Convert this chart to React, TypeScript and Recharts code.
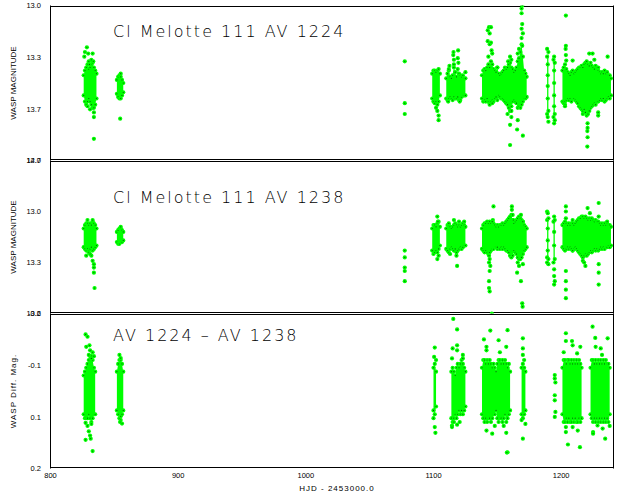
import React from 'react'
import { ComposedChart, Area, Scatter, XAxis, YAxis, Label } from 'recharts'

// each night: [HJD - 2453000, brightest, faintest] of the dense part
type Night = [number, number, number]
type Pt = [number, number]

const xMinorTicks = [
  800, 810, 820, 830, 840, 850, 860, 870, 880, 890, 900, 910, 920, 930, 940, 950, 960, 970, 980, 990,
  1000, 1010, 1020, 1030, 1040, 1050, 1060, 1070, 1080, 1090, 1100, 1110, 1120, 1130, 1140, 1150,
  1160, 1170, 1180, 1190, 1200, 1210, 1220, 1230, 1240,
]
const xMajorTicks = [800, 900, 1000, 1100, 1200]

const av1224Ticks = [13.0, 13.333, 13.667, 14.0]
const av1238Ticks = [12.7, 13.0, 13.3, 13.6]
const diffTicks = [-0.2, -0.0667, 0.0667, 0.2]

// ---- AV 1224 ----
const av1224Runs: Night[][] = [
  [[826, 13.45, 13.58], [827, 13.42, 13.62], [828, 13.40, 13.64], [829, 13.38, 13.62], [830, 13.41, 13.60], [831, 13.40, 13.62],
   [832, 13.38, 13.64], [833, 13.37, 13.66], [834, 13.40, 13.66], [835, 13.42, 13.64], [836, 13.44, 13.60]],
  [[852, 13.48, 13.57], [853, 13.46, 13.59], [854, 13.45, 13.60], [855, 13.46, 13.60], [856, 13.48, 13.58], [857, 13.50, 13.56]],
  [[1099, 13.44, 13.60], [1100, 13.42, 13.62], [1101, 13.42, 13.63], [1102, 13.43, 13.62], [1103, 13.42, 13.64], [1104, 13.41, 13.62], [1105, 13.44, 13.58]],
  [[1110, 13.47, 13.60], [1111, 13.44, 13.61], [1112, 13.42, 13.60], [1113, 13.46, 13.59], [1114, 13.47, 13.60], [1115, 13.45, 13.61],
   [1116, 13.40, 13.59], [1117, 13.43, 13.60], [1118, 13.46, 13.60], [1119, 13.41, 13.59], [1120, 13.44, 13.61], [1121, 13.45, 13.61],
   [1122, 13.46, 13.59], [1123, 13.45, 13.58], [1124, 13.47, 13.58], [1125, 13.47, 13.58]],
  [[1138, 13.45, 13.60], [1139, 13.42, 13.62], [1140, 13.41, 13.61], [1141, 13.42, 13.62], [1142, 13.40, 13.60], [1143, 13.38, 13.62],
   [1144, 13.40, 13.63], [1145, 13.36, 13.62], [1146, 13.38, 13.61], [1147, 13.41, 13.62], [1148, 13.42, 13.60], [1149, 13.43, 13.59],
   [1150, 13.40, 13.61], [1151, 13.44, 13.58], [1152, 13.45, 13.59], [1153, 13.44, 13.60], [1154, 13.43, 13.60], [1155, 13.42, 13.61],
   [1156, 13.40, 13.62], [1157, 13.41, 13.63], [1158, 13.40, 13.64], [1159, 13.38, 13.66], [1160, 13.37, 13.68], [1161, 13.40, 13.65],
   [1162, 13.41, 13.62], [1163, 13.43, 13.61], [1164, 13.42, 13.62], [1165, 13.40, 13.63], [1166, 13.36, 13.66], [1167, 13.34, 13.65],
   [1168, 13.30, 13.66], [1169, 13.25, 13.64], [1170, 13.33, 13.62], [1171, 13.42, 13.60], [1172, 13.44, 13.60], [1173, 13.46, 13.59]],
  [[1189, 13.33, 13.70], [1190, 13.30, 13.68]],
  [[1194, 13.35, 13.72], [1195, 13.37, 13.70]],
  [[1201, 13.42, 13.62], [1202, 13.40, 13.63], [1203, 13.38, 13.62], [1204, 13.41, 13.61], [1205, 13.43, 13.60], [1206, 13.44, 13.61],
   [1207, 13.45, 13.60], [1208, 13.43, 13.62], [1209, 13.42, 13.60], [1210, 13.44, 13.60], [1211, 13.43, 13.61], [1212, 13.42, 13.62],
   [1213, 13.41, 13.63], [1214, 13.40, 13.65], [1215, 13.40, 13.66], [1216, 13.39, 13.67], [1217, 13.40, 13.68], [1218, 13.38, 13.67],
   [1219, 13.37, 13.69], [1220, 13.36, 13.71], [1221, 13.38, 13.70], [1222, 13.39, 13.68], [1223, 13.37, 13.66], [1224, 13.39, 13.65],
   [1225, 13.40, 13.64], [1226, 13.41, 13.63], [1227, 13.39, 13.64], [1228, 13.40, 13.62], [1229, 13.42, 13.62], [1230, 13.43, 13.61],
   [1231, 13.44, 13.60], [1232, 13.43, 13.61], [1233, 13.44, 13.60], [1234, 13.42, 13.62], [1235, 13.44, 13.61], [1236, 13.43, 13.60],
   [1237, 13.45, 13.59], [1238, 13.45, 13.60], [1239, 13.47, 13.58]],
]

const av1224Stray: Pt[] = [
  [827, 13.30], [828.5, 13.27], [826.5, 13.33], [829.5, 13.31], [830, 13.36], [830.5, 13.38], [833, 13.31], [833.5, 13.36],
  [834, 13.69], [834, 13.72], [834, 13.86], [829, 13.65], [831, 13.67], [832, 13.35],
  [854.6, 13.73], [855, 13.44],
  [1077.5, 13.36], [1077.5, 13.63], [1077.5, 13.70],
  [1103, 13.68], [1104, 13.71], [1104, 13.74], [1102, 13.66],
  [1115.7, 13.30], [1115.5, 13.32], [1116, 13.35], [1116, 13.38], [1119.3, 13.29], [1119, 13.34], [1119.5, 13.37],
  [1112, 13.41], [1111.5, 13.62], [1120.5, 13.62], [1112.5, 13.39], [1125, 13.43],
  [1143.5, 13.14], [1145, 13.14], [1142.5, 13.16], [1144, 13.18], [1142.5, 13.23], [1145, 13.24], [1144, 13.25], [1146, 13.31],
  [1143, 13.33], [1145.5, 13.29], [1150, 13.40], [1158.5, 13.36], [1160, 13.33], [1161, 13.35], [1161, 13.68], [1161, 13.72],
  [1160, 13.77], [1160, 13.90], [1158, 13.70], [1166, 13.31], [1166, 13.74], [1165.5, 13.80], [1169.5, 13.00], [1169, 13.02],
  [1169, 13.05], [1169.5, 13.12], [1169, 13.15], [1170, 13.18], [1169, 13.21], [1169.5, 13.26], [1170, 13.84], [1167, 13.28],
  [1144, 13.64], [1146, 13.63],
  [1189, 13.28], [1189.5, 13.38], [1189.5, 13.45], [1189.5, 13.52], [1189.5, 13.60], [1190, 13.75], [1189.5, 13.72],
  [1194.5, 13.33], [1194.5, 13.42], [1194.5, 13.50], [1194.5, 13.58], [1194.5, 13.65], [1194.5, 13.76], [1195, 13.74],
  [1203.7, 13.065], [1203.7, 13.26], [1203.5, 13.28], [1203.7, 13.32], [1204, 13.355], [1209, 13.355], [1220.7, 13.76],
  [1220.7, 13.79], [1220.5, 13.81], [1220.7, 13.85], [1220.5, 13.91], [1222, 13.31], [1224.6, 13.31], [1236.4, 13.33],
  [1229, 13.40], [1229, 13.69], [1229, 13.71], [1217, 13.70], [1203, 13.64], [1203, 13.65], [1226, 13.35],
]

// ---- AV 1238 ----
const av1238Runs: Night[][] = [
  [[826, 13.10, 13.21], [827, 13.08, 13.22], [828, 13.07, 13.23], [829, 13.07, 13.22], [830, 13.08, 13.23], [831, 13.07, 13.22],
   [832, 13.08, 13.21], [833, 13.06, 13.23], [834, 13.07, 13.22], [835, 13.08, 13.21], [836, 13.10, 13.20]],
  [[852, 13.12, 13.18], [853, 13.11, 13.19], [854, 13.10, 13.19], [855, 13.10, 13.18], [856, 13.11, 13.18], [857, 13.12, 13.17]],
  [[1099, 13.10, 13.23], [1100, 13.08, 13.25], [1101, 13.08, 13.24], [1102, 13.09, 13.23], [1103, 13.07, 13.24], [1104, 13.06, 13.22], [1105, 13.09, 13.20]],
  [[1110, 13.10, 13.22], [1111, 13.08, 13.23], [1112, 13.08, 13.24], [1113, 13.09, 13.22], [1114, 13.10, 13.21], [1115, 13.09, 13.22],
   [1116, 13.08, 13.23], [1117, 13.07, 13.22], [1118, 13.08, 13.24], [1119, 13.09, 13.23], [1120, 13.08, 13.22], [1121, 13.09, 13.21],
   [1122, 13.08, 13.22], [1123, 13.07, 13.21], [1124, 13.08, 13.20], [1125, 13.09, 13.20]],
  [[1138, 13.10, 13.22], [1139, 13.08, 13.23], [1140, 13.07, 13.24], [1141, 13.07, 13.23], [1142, 13.06, 13.24], [1143, 13.07, 13.25],
   [1144, 13.06, 13.24], [1145, 13.07, 13.23], [1146, 13.06, 13.22], [1147, 13.07, 13.22], [1148, 13.08, 13.21], [1149, 13.09, 13.21],
   [1150, 13.08, 13.22], [1151, 13.09, 13.21], [1152, 13.08, 13.22], [1153, 13.08, 13.21], [1154, 13.07, 13.22], [1155, 13.08, 13.21],
   [1156, 13.07, 13.22], [1157, 13.06, 13.23], [1158, 13.05, 13.23], [1159, 13.04, 13.24], [1160, 13.03, 13.26], [1161, 13.02, 13.27],
   [1162, 13.05, 13.26], [1163, 13.07, 13.23], [1164, 13.06, 13.24], [1165, 13.05, 13.25], [1166, 13.04, 13.27], [1167, 13.03, 13.28],
   [1168, 13.04, 13.28], [1169, 13.05, 13.27], [1170, 13.06, 13.25], [1171, 13.08, 13.23], [1172, 13.09, 13.22], [1173, 13.10, 13.21]],
  [[1189, 13.05, 13.27], [1190, 13.04, 13.28]],
  [[1194, 13.06, 13.30], [1195, 13.05, 13.28]],
  [[1201, 13.08, 13.21], [1202, 13.07, 13.22], [1203, 13.06, 13.23], [1204, 13.07, 13.22], [1205, 13.08, 13.21], [1206, 13.07, 13.22],
   [1207, 13.08, 13.21], [1208, 13.07, 13.22], [1209, 13.07, 13.23], [1210, 13.08, 13.22], [1211, 13.07, 13.21], [1212, 13.06, 13.22],
   [1213, 13.05, 13.23], [1214, 13.04, 13.24], [1215, 13.04, 13.25], [1216, 13.03, 13.26], [1217, 13.03, 13.27], [1218, 13.04, 13.26],
   [1219, 13.03, 13.25], [1220, 13.04, 13.26], [1221, 13.05, 13.25], [1222, 13.04, 13.24], [1223, 13.05, 13.23], [1224, 13.04, 13.24],
   [1225, 13.05, 13.23], [1226, 13.06, 13.22], [1227, 13.05, 13.23], [1228, 13.06, 13.22], [1229, 13.06, 13.23], [1230, 13.07, 13.22],
   [1231, 13.08, 13.21], [1232, 13.07, 13.22], [1233, 13.08, 13.21], [1234, 13.07, 13.22], [1235, 13.08, 13.21], [1236, 13.07, 13.21],
   [1237, 13.08, 13.20], [1238, 13.08, 13.21], [1239, 13.09, 13.20]],
]

const av1238Stray: Pt[] = [
  [829, 13.05], [833, 13.05], [830, 13.24], [832, 13.26], [833, 13.29], [834, 13.31], [834, 13.33], [834, 13.36], [834.5, 13.45],
  [831, 13.25], [828, 13.26],
  [855, 13.09],
  [1077.5, 13.23], [1077.5, 13.27], [1077.5, 13.33], [1077.5, 13.35], [1077.5, 13.41],
  [1103, 13.03], [1103.5, 13.06], [1103, 13.28], [1104, 13.26],
  [1118.5, 13.32], [1118, 13.26], [1116, 13.05], [1124, 13.06], [1112, 13.07], [1120, 13.06], [1113, 13.25],
  [1147, 12.97], [1146.5, 13.05], [1146, 13.06], [1143.5, 13.26], [1144, 13.28], [1143.5, 13.30], [1144.5, 13.32], [1144, 13.35],
  [1143.5, 13.41], [1143.5, 13.45], [1144, 13.47], [1150, 13.21], [1161.4, 12.97], [1161.4, 12.99], [1162, 13.02], [1162.5, 13.05],
  [1165.5, 13.36], [1168.5, 13.41], [1169.5, 13.54], [1169.8, 13.56], [1166, 13.30], [1167, 13.32], [1170, 13.31], [1168.5, 13.02],
  [1170, 13.06], [1145.7, 13.60],
  [1189, 13.00], [1189.5, 13.01], [1190, 13.31], [1189, 13.30], [1189.5, 13.10], [1189.5, 13.17], [1189.5, 13.23],
  [1194.5, 13.03], [1194.5, 13.38], [1195, 13.41], [1194.5, 13.43], [1194.5, 13.12], [1194.5, 13.20], [1194.5, 13.34],
  [1203.7, 12.97], [1203.7, 13.00], [1203.7, 13.04], [1203.7, 13.35], [1203.7, 13.41], [1203.7, 13.46], [1203.7, 13.51],
  [1209, 13.05], [1209, 13.23], [1220.7, 12.98], [1222.5, 13.01], [1229.4, 12.95], [1229.4, 13.03], [1229.4, 13.31],
  [1229.4, 13.36], [1229.4, 13.43], [1217, 13.29], [1219, 13.32], [1218, 13.30], [1236, 13.06],
]

// ---- AV 1224 - AV 1238 ----
const diffRuns: Night[][] = [
  [[826, -0.04, 0.06], [827, -0.05, 0.07], [828, -0.06, 0.07], [829, -0.07, 0.07], [830, -0.08, 0.06], [831, -0.09, 0.07],
   [832, -0.09, 0.08], [833, -0.08, 0.07], [834, -0.06, 0.06], [835, -0.05, 0.06]],
  [[852, -0.05, 0.05], [853, -0.07, 0.06], [854, -0.08, 0.07], [855, -0.08, 0.065], [856, -0.07, 0.06], [857, -0.05, 0.05]],
  [[1100, -0.06, 0.05], [1101, -0.07, 0.06], [1102, -0.05, 0.04]],
  [[1114, -0.05, 0.07], [1115, -0.06, 0.08], [1116, -0.05, 0.07], [1117, -0.04, 0.06], [1118, -0.06, 0.07], [1119, -0.07, 0.06],
   [1120, -0.06, 0.05], [1121, -0.07, 0.06], [1122, -0.08, 0.05], [1123, -0.07, 0.06], [1124, -0.06, 0.05], [1125, -0.05, 0.04]],
  [[1138, -0.06, 0.06], [1139, -0.08, 0.07], [1140, -0.08, 0.08], [1141, -0.07, 0.07], [1142, -0.08, 0.08], [1143, -0.07, 0.07],
   [1144, -0.08, 0.07], [1145, -0.07, 0.08], [1146, -0.06, 0.07], [1147, -0.07, 0.06], [1148, -0.06, 0.06], [1149, -0.05, 0.05],
   [1150, -0.07, 0.07], [1151, -0.08, 0.08], [1152, -0.08, 0.07], [1153, -0.07, 0.07], [1154, -0.08, 0.08], [1155, -0.07, 0.07],
   [1156, -0.08, 0.06], [1157, -0.07, 0.08], [1158, -0.06, 0.07], [1159, -0.07, 0.06], [1160, -0.05, 0.05]],
  [[1169, -0.06, 0.06], [1170, -0.07, 0.07], [1171, -0.06, 0.06], [1172, -0.05, 0.05]],
  [[1201, -0.06, 0.06], [1202, -0.08, 0.08], [1203, -0.08, 0.08], [1204, -0.07, 0.07], [1205, -0.08, 0.08], [1206, -0.08, 0.07],
   [1207, -0.07, 0.08], [1208, -0.08, 0.08], [1209, -0.07, 0.07], [1210, -0.08, 0.08], [1211, -0.07, 0.07], [1212, -0.08, 0.08],
   [1213, -0.07, 0.08], [1214, -0.08, 0.07], [1215, -0.07, 0.08], [1216, -0.06, 0.07]],
  [[1223, -0.06, 0.06], [1224, -0.08, 0.07], [1225, -0.08, 0.08], [1226, -0.07, 0.07], [1227, -0.08, 0.08], [1228, -0.07, 0.07],
   [1229, -0.08, 0.08], [1230, -0.07, 0.07], [1231, -0.08, 0.08], [1232, -0.07, 0.07], [1233, -0.08, 0.08], [1234, -0.07, 0.07],
   [1235, -0.08, 0.08], [1236, -0.07, 0.07], [1237, -0.07, 0.08], [1238, -0.06, 0.06]],
]

const diffStray: Pt[] = [
  [827.5, -0.146], [829, -0.14], [828, -0.114], [830.5, -0.118], [831, -0.105], [830, -0.093], [832, -0.084], [833, -0.10],
  [834, -0.09], [827.5, 0.082], [830, 0.104], [831, 0.115], [831.5, 0.123], [827.5, 0.126], [833, 0.155], [829, 0.09], [832, 0.085],
  [854, -0.093], [855, -0.085], [855, 0.075], [856, 0.084], [854.5, 0.08],
  [1101, -0.112], [1100.5, -0.088], [1101, 0.093], [1101.5, 0.108], [1100, 0.07], [1102, -0.08],
  [1115.5, -0.186], [1118.5, -0.159], [1118.5, -0.118], [1118.5, -0.105], [1115, -0.11], [1123, -0.093], [1123, -0.084],
  [1114.5, -0.084], [1114.5, 0.089], [1114.5, 0.093], [1118.5, 0.087], [1120.5, 0.080], [1116, 0.08],
  [1139.5, -0.133], [1144.5, -0.156], [1151, -0.131], [1158, -0.157], [1157, -0.114], [1141.5, -0.114], [1141.5, -0.105],
  [1141.5, 0.102], [1146, 0.11], [1158, 0.158], [1157, 0.108], [1148, 0.09], [1152, -0.10], [1155, 0.09], [1157.5, 0.159],
  [1170, -0.136], [1170, -0.11], [1170, -0.093], [1170, 0.123], [1172, 0.085], [1171, -0.08], [1169, 0.075],
  [1195, -0.041], [1195, -0.032], [1195.5, -0.022], [1195, 0.011], [1195, 0.024], [1195.5, 0.054], [1195, 0.067],
  [1203.7, -0.149], [1203.7, -0.129], [1208.5, -0.129], [1209, -0.118], [1215, -0.114], [1212.5, -0.097], [1203.7, 0.093],
  [1203.7, 0.106], [1205.3, 0.138], [1214.7, 0.145], [1213, 0.102], [1209, 0.093], [1202, -0.10],
  [1224.6, -0.166], [1226.7, -0.137], [1236.4, -0.136], [1231, -0.11], [1227, -0.114], [1232, -0.093], [1225, 0.106],
  [1225, 0.11], [1228.5, 0.089], [1234.5, 0.123], [1232.5, 0.097], [1238, 0.09],
]

const X_DOMAIN: [number, number] = [800, 1241]
const INK = '#000'
const GREEN = '#00ff00'
const FONT = '"Liberation Sans", Arial, sans-serif'

// runs -> area rows, with a null row after each run so the bands don't join
function toBands(runs: Night[][]) {
  const rows: { x: number; band: [number, number] | null }[] = []
  runs.forEach((run) => {
    run.forEach(([x, lo, hi]) => rows.push({ x, band: [lo, hi] }))
    rows.push({ x: run[run.length - 1][0] + 0.5, band: null })
  })
  return rows
}

function toDots(runs: Night[][], stray: Pt[]) {
  const pts: { x: number; y: number }[] = []
  runs.forEach((run) =>
    run.forEach(([x, lo, hi]) => {
      pts.push({ x, y: lo })
      pts.push({ x, y: hi })
    })
  )
  stray.forEach(([x, y]) => pts.push({ x, y }))
  return pts
}

const renderDot = (p: any) => (
  <g>
    <circle cx={p.cx} cy={p.cy} r={2.1} fill={GREEN} />
    <circle cx={p.cx} cy={p.cy} r={0.6} fill="#0a5a0a" />
  </g>
)

const fmt = (v: number) => v.toFixed(1)

interface PanelProps {
  runs: Night[][]
  stray: Pt[]
  yDomain: [number, number]
  yTicks: number[]
  yLabel: string
  yLabelSpacing: number
  top: number
  height: number
  showX: boolean
}

// plot edges sit on half pixels so the 1px frame lines stay crisp
function Panel({ runs, stray, yDomain, yTicks, yLabel, yLabelSpacing, top, height, showX }: PanelProps) {
  const bands = toBands(runs)
  const dots = toDots(runs, stray)
  const common = { type: 'number' as const, dataKey: 'x', domain: X_DOMAIN, allowDataOverflow: true, stroke: INK }
  const yCommon = { type: 'number' as const, dataKey: 'y', domain: yDomain, reversed: true, allowDataOverflow: true, stroke: INK }
  return (
    <div style={{ position: 'absolute', left: 0, top }}>
      <ComposedChart
        width={621}
        height={height}
        data={bands}
        margin={{ top: 10.5, right: 7.5, bottom: showX ? 0 : 9.5, left: 0 }}
      >
        <XAxis xAxisId="bx" {...common} orientation="bottom" mirror height={1} ticks={xMinorTicks} interval={0} tick={false} tickSize={3} />
        <XAxis xAxisId="bX" {...common} orientation="bottom" mirror height={1} ticks={xMajorTicks} interval={0} tick={false} tickSize={6} axisLine={false} />
        <XAxis xAxisId="tx" {...common} orientation="top" mirror height={1} ticks={xMinorTicks} interval={0} tick={false} tickSize={3} />
        <XAxis xAxisId="tX" {...common} orientation="top" mirror height={1} ticks={xMajorTicks} interval={0} tick={false} tickSize={6} axisLine={false} />
        {showX && (
          <XAxis
            xAxisId="lab"
            {...common}
            orientation="bottom"
            height={27.5}
            ticks={xMajorTicks}
            interval={0}
            axisLine={false}
            tickLine={false}
            tickSize={0}
            tickMargin={4}
            tick={{ fontSize: 7.5, fill: INK, fontFamily: FONT }}
          />
        )}
        <YAxis yAxisId="ly" {...yCommon} mirror width={1} ticks={yTicks} interval={0} tick={false} tickSize={12} />
        <YAxis
          yAxisId="lab"
          {...yCommon}
          width={50.5}
          ticks={yTicks}
          interval={0}
          axisLine={false}
          tickLine={false}
          tickSize={0}
          tickMargin={9.5}
          tickFormatter={fmt}
          tick={{ fontSize: 7.5, fill: INK, fontFamily: FONT }}
        >
          <Label
            value={yLabel}
            angle={-90}
            position="insideLeft"
            offset={13}
            style={{ textAnchor: 'middle', fontSize: 8, fill: INK, fontFamily: FONT, letterSpacing: yLabelSpacing }}
          />
        </YAxis>
        <YAxis yAxisId="ry" {...yCommon} orientation="right" mirror width={1} ticks={yTicks} interval={0} tick={false} tickSize={10} />
        <Area
          xAxisId="bx"
          yAxisId="ly"
          dataKey="band"
          type="linear"
          fill={GREEN}
          fillOpacity={1}
          stroke="none"
          connectNulls={false}
          dot={false}
          activeDot={false}
          isAnimationActive={false}
        />
        <Scatter xAxisId="bx" yAxisId="ly" data={dots} shape={renderDot} isAnimationActive={false} />
      </ComposedChart>
    </div>
  )
}

const TITLE_STYLE: React.CSSProperties = {
  fontFamily: '"DejaVu Sans", sans-serif',
  fontWeight: 200,
  fontSize: 16,
  letterSpacing: 2,
  fill: INK,
}

export default function App() {
  return (
    <div style={{ position: 'fixed', left: 0, top: 0, width: 621, height: 496, background: '#fff', overflow: 'hidden' }}>
      <Panel runs={av1224Runs} stray={av1224Stray} yDomain={[13.0, 14.0]} yTicks={av1224Ticks}
        yLabel="WASP MAGNITUDE" yLabelSpacing={0} top={-5} height={175} showX={false} />
      <Panel runs={av1238Runs} stray={av1238Stray} yDomain={[12.7, 13.6]} yTicks={av1238Ticks}
        yLabel="WASP MAGNITUDE" yLabelSpacing={0} top={150} height={173} showX={false} />
      <Panel runs={diffRuns} stray={diffStray} yDomain={[-0.2, 0.2]} yTicks={diffTicks}
        yLabel="WASP Diff. Mag." yLabelSpacing={1} top={303} height={193} showX />
      <svg width={621} height={496} style={{ position: 'absolute', left: 0, top: 0, pointerEvents: 'none' }}>
        <text x={113} y={37} style={TITLE_STYLE}>Cl Melotte 111 AV 1224</text>
        <text x={113} y={203} style={TITLE_STYLE}>Cl Melotte 111 AV 1238</text>
        <text x={113} y={341} style={TITLE_STYLE}>AV 1224 – AV 1238</text>
        <text x={337} y={491} textAnchor="middle" style={{ fontFamily: FONT, fontSize: 8, letterSpacing: 1, fill: INK }}>
          HJD - 2453000.0
        </text>
      </svg>
    </div>
  )
}
